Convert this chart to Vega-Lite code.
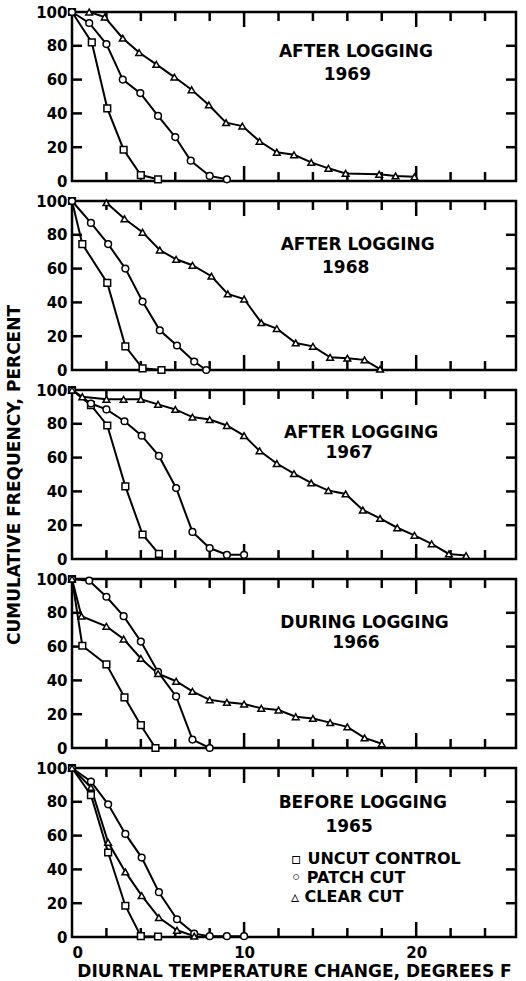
{
  "$schema": "https://vega.github.io/schema/vega-lite/v6.json",
  "background": "white",
  "padding": {"left": 4, "top": 3, "right": 5, "bottom": 2},
  "bounds": "flush",
  "spacing": 20,
  "resolve": {"legend": {"shape": "independent"}},
  "config": {
    "view": {"stroke": "black", "strokeWidth": 2.5},
    "font": "DejaVu Sans",
    "axis": {
      "labelFont": "DejaVu Sans", "labelFontWeight": "bold", "labelFontSize": 15, "labelColor": "black",
      "ticks": false, "domain": false, "grid": false,
      "titleFont": "DejaVu Sans", "titleFontWeight": "bold", "titleColor": "black", "titleFontSize": 17
    },
    "legend": {
      "labelFont": "DejaVu Sans", "labelFontWeight": "bold", "labelFontSize": 16, "labelColor": "black", "labelLimit": 400,
      "padding": 0, "rowPadding": 3, "labelOffset": 0
    }
  },
  "datasets": {
    "xticks": [{"value": 2}, {"value": 4}, {"value": 6}, {"value": 8}, {"value": 10}, {"value": 12}, {"value": 14}, {"value": 16}, {"value": 18}, {"value": 20}, {"value": 22}, {"value": 24}],
    "yticks": [{"value": 20}, {"value": 40}, {"value": 60}, {"value": 80}],
    "curves": [
      {"panel": "1969", "series": "UNCUT CONTROL", "x": 0, "y": 100},
      {"panel": "1969", "series": "UNCUT CONTROL", "x": 1.15, "y": 82},
      {"panel": "1969", "series": "UNCUT CONTROL", "x": 2.05, "y": 43},
      {"panel": "1969", "series": "UNCUT CONTROL", "x": 3, "y": 18.5},
      {"panel": "1969", "series": "UNCUT CONTROL", "x": 4, "y": 3.5},
      {"panel": "1969", "series": "UNCUT CONTROL", "x": 5, "y": 1},
      {"panel": "1969", "series": "PATCH CUT", "x": 0, "y": 100},
      {"panel": "1969", "series": "PATCH CUT", "x": 1, "y": 93.5},
      {"panel": "1969", "series": "PATCH CUT", "x": 2, "y": 81},
      {"panel": "1969", "series": "PATCH CUT", "x": 2.95, "y": 60},
      {"panel": "1969", "series": "PATCH CUT", "x": 3.97, "y": 52},
      {"panel": "1969", "series": "PATCH CUT", "x": 5, "y": 38.5},
      {"panel": "1969", "series": "PATCH CUT", "x": 6, "y": 26},
      {"panel": "1969", "series": "PATCH CUT", "x": 6.9, "y": 12},
      {"panel": "1969", "series": "PATCH CUT", "x": 8, "y": 3},
      {"panel": "1969", "series": "PATCH CUT", "x": 9, "y": 1},
      {"panel": "1969", "series": "CLEAR CUT", "x": 1, "y": 100},
      {"panel": "1969", "series": "CLEAR CUT", "x": 1.9, "y": 97},
      {"panel": "1969", "series": "CLEAR CUT", "x": 2.95, "y": 84.5},
      {"panel": "1969", "series": "CLEAR CUT", "x": 3.9, "y": 76},
      {"panel": "1969", "series": "CLEAR CUT", "x": 4.9, "y": 69},
      {"panel": "1969", "series": "CLEAR CUT", "x": 5.95, "y": 61.5},
      {"panel": "1969", "series": "CLEAR CUT", "x": 6.95, "y": 54},
      {"panel": "1969", "series": "CLEAR CUT", "x": 7.95, "y": 45},
      {"panel": "1969", "series": "CLEAR CUT", "x": 8.95, "y": 34.5},
      {"panel": "1969", "series": "CLEAR CUT", "x": 9.9, "y": 32.5},
      {"panel": "1969", "series": "CLEAR CUT", "x": 10.9, "y": 23.5},
      {"panel": "1969", "series": "CLEAR CUT", "x": 11.9, "y": 17},
      {"panel": "1969", "series": "CLEAR CUT", "x": 12.9, "y": 15.5},
      {"panel": "1969", "series": "CLEAR CUT", "x": 13.9, "y": 11},
      {"panel": "1969", "series": "CLEAR CUT", "x": 14.9, "y": 7.5},
      {"panel": "1969", "series": "CLEAR CUT", "x": 15.9, "y": 4.5},
      {"panel": "1969", "series": "CLEAR CUT", "x": 17.85, "y": 4},
      {"panel": "1969", "series": "CLEAR CUT", "x": 18.8, "y": 3},
      {"panel": "1969", "series": "CLEAR CUT", "x": 19.9, "y": 2.5},

      {"panel": "1968", "series": "UNCUT CONTROL", "x": 0, "y": 100},
      {"panel": "1968", "series": "UNCUT CONTROL", "x": 0.6, "y": 74.5},
      {"panel": "1968", "series": "UNCUT CONTROL", "x": 2.05, "y": 51.5},
      {"panel": "1968", "series": "UNCUT CONTROL", "x": 3.1, "y": 14},
      {"panel": "1968", "series": "UNCUT CONTROL", "x": 4.1, "y": 1},
      {"panel": "1968", "series": "UNCUT CONTROL", "x": 5.2, "y": 0},
      {"panel": "1968", "series": "PATCH CUT", "x": 0, "y": 100},
      {"panel": "1968", "series": "PATCH CUT", "x": 1.1, "y": 87},
      {"panel": "1968", "series": "PATCH CUT", "x": 2.1, "y": 74.5},
      {"panel": "1968", "series": "PATCH CUT", "x": 3.1, "y": 60},
      {"panel": "1968", "series": "PATCH CUT", "x": 4.1, "y": 40.5},
      {"panel": "1968", "series": "PATCH CUT", "x": 5.1, "y": 23.5},
      {"panel": "1968", "series": "PATCH CUT", "x": 6.1, "y": 14.5},
      {"panel": "1968", "series": "PATCH CUT", "x": 7.1, "y": 5},
      {"panel": "1968", "series": "PATCH CUT", "x": 7.8, "y": 0},
      {"panel": "1968", "series": "CLEAR CUT", "x": 2, "y": 99},
      {"panel": "1968", "series": "CLEAR CUT", "x": 3.05, "y": 89.5},
      {"panel": "1968", "series": "CLEAR CUT", "x": 4.1, "y": 81.5},
      {"panel": "1968", "series": "CLEAR CUT", "x": 5.1, "y": 71},
      {"panel": "1968", "series": "CLEAR CUT", "x": 6.05, "y": 65.5},
      {"panel": "1968", "series": "CLEAR CUT", "x": 7, "y": 62},
      {"panel": "1968", "series": "CLEAR CUT", "x": 8.1, "y": 55.5},
      {"panel": "1968", "series": "CLEAR CUT", "x": 9.05, "y": 45},
      {"panel": "1968", "series": "CLEAR CUT", "x": 10, "y": 42},
      {"panel": "1968", "series": "CLEAR CUT", "x": 11, "y": 28},
      {"panel": "1968", "series": "CLEAR CUT", "x": 11.9, "y": 24.5},
      {"panel": "1968", "series": "CLEAR CUT", "x": 13, "y": 16},
      {"panel": "1968", "series": "CLEAR CUT", "x": 14, "y": 14},
      {"panel": "1968", "series": "CLEAR CUT", "x": 15, "y": 7.5},
      {"panel": "1968", "series": "CLEAR CUT", "x": 16, "y": 7},
      {"panel": "1968", "series": "CLEAR CUT", "x": 17, "y": 6},
      {"panel": "1968", "series": "CLEAR CUT", "x": 17.9, "y": 0.5},

      {"panel": "1967", "series": "UNCUT CONTROL", "x": 0, "y": 100},
      {"panel": "1967", "series": "UNCUT CONTROL", "x": 1.1, "y": 91},
      {"panel": "1967", "series": "UNCUT CONTROL", "x": 2.05, "y": 79},
      {"panel": "1967", "series": "UNCUT CONTROL", "x": 3.1, "y": 43},
      {"panel": "1967", "series": "UNCUT CONTROL", "x": 4.1, "y": 14.5},
      {"panel": "1967", "series": "UNCUT CONTROL", "x": 5.05, "y": 3},
      {"panel": "1967", "series": "PATCH CUT", "x": 0, "y": 100},
      {"panel": "1967", "series": "PATCH CUT", "x": 1.1, "y": 92},
      {"panel": "1967", "series": "PATCH CUT", "x": 2, "y": 88.5},
      {"panel": "1967", "series": "PATCH CUT", "x": 3.05, "y": 81.5},
      {"panel": "1967", "series": "PATCH CUT", "x": 4.05, "y": 73},
      {"panel": "1967", "series": "PATCH CUT", "x": 5.05, "y": 61},
      {"panel": "1967", "series": "PATCH CUT", "x": 6.05, "y": 42},
      {"panel": "1967", "series": "PATCH CUT", "x": 7, "y": 16},
      {"panel": "1967", "series": "PATCH CUT", "x": 8, "y": 6.5},
      {"panel": "1967", "series": "PATCH CUT", "x": 9, "y": 2.5},
      {"panel": "1967", "series": "PATCH CUT", "x": 10, "y": 2.5},
      {"panel": "1967", "series": "CLEAR CUT", "x": 0, "y": 100},
      {"panel": "1967", "series": "CLEAR CUT", "x": 0.6, "y": 96},
      {"panel": "1967", "series": "CLEAR CUT", "x": 2, "y": 94.5},
      {"panel": "1967", "series": "CLEAR CUT", "x": 3, "y": 94.5},
      {"panel": "1967", "series": "CLEAR CUT", "x": 4, "y": 94.5},
      {"panel": "1967", "series": "CLEAR CUT", "x": 5, "y": 91.5},
      {"panel": "1967", "series": "CLEAR CUT", "x": 6, "y": 88.5},
      {"panel": "1967", "series": "CLEAR CUT", "x": 7, "y": 84},
      {"panel": "1967", "series": "CLEAR CUT", "x": 8, "y": 82.5},
      {"panel": "1967", "series": "CLEAR CUT", "x": 9, "y": 79},
      {"panel": "1967", "series": "CLEAR CUT", "x": 10, "y": 73},
      {"panel": "1967", "series": "CLEAR CUT", "x": 10.9, "y": 64},
      {"panel": "1967", "series": "CLEAR CUT", "x": 11.9, "y": 56.5},
      {"panel": "1967", "series": "CLEAR CUT", "x": 12.9, "y": 50.5},
      {"panel": "1967", "series": "CLEAR CUT", "x": 13.9, "y": 45},
      {"panel": "1967", "series": "CLEAR CUT", "x": 14.9, "y": 40.5},
      {"panel": "1967", "series": "CLEAR CUT", "x": 15.9, "y": 38.5},
      {"panel": "1967", "series": "CLEAR CUT", "x": 16.9, "y": 29},
      {"panel": "1967", "series": "CLEAR CUT", "x": 17.9, "y": 24},
      {"panel": "1967", "series": "CLEAR CUT", "x": 18.9, "y": 18.5},
      {"panel": "1967", "series": "CLEAR CUT", "x": 19.9, "y": 14},
      {"panel": "1967", "series": "CLEAR CUT", "x": 20.9, "y": 9},
      {"panel": "1967", "series": "CLEAR CUT", "x": 21.9, "y": 3},
      {"panel": "1967", "series": "CLEAR CUT", "x": 22.9, "y": 2},

      {"panel": "1966", "series": "UNCUT CONTROL", "x": 0, "y": 100},
      {"panel": "1966", "series": "UNCUT CONTROL", "x": 0.6, "y": 60.5},
      {"panel": "1966", "series": "UNCUT CONTROL", "x": 2, "y": 49.5},
      {"panel": "1966", "series": "UNCUT CONTROL", "x": 3.05, "y": 30},
      {"panel": "1966", "series": "UNCUT CONTROL", "x": 4, "y": 13.5},
      {"panel": "1966", "series": "UNCUT CONTROL", "x": 4.85, "y": 0},
      {"panel": "1966", "series": "PATCH CUT", "x": 0, "y": 100},
      {"panel": "1966", "series": "PATCH CUT", "x": 1, "y": 99},
      {"panel": "1966", "series": "PATCH CUT", "x": 2, "y": 89.5},
      {"panel": "1966", "series": "PATCH CUT", "x": 3, "y": 78},
      {"panel": "1966", "series": "PATCH CUT", "x": 4, "y": 63},
      {"panel": "1966", "series": "PATCH CUT", "x": 5, "y": 45},
      {"panel": "1966", "series": "PATCH CUT", "x": 6.05, "y": 30.5},
      {"panel": "1966", "series": "PATCH CUT", "x": 7, "y": 5},
      {"panel": "1966", "series": "PATCH CUT", "x": 8, "y": 0},
      {"panel": "1966", "series": "CLEAR CUT", "x": 0, "y": 100},
      {"panel": "1966", "series": "CLEAR CUT", "x": 0.55, "y": 78},
      {"panel": "1966", "series": "CLEAR CUT", "x": 2, "y": 72},
      {"panel": "1966", "series": "CLEAR CUT", "x": 3, "y": 64.5},
      {"panel": "1966", "series": "CLEAR CUT", "x": 4, "y": 53},
      {"panel": "1966", "series": "CLEAR CUT", "x": 5, "y": 44},
      {"panel": "1966", "series": "CLEAR CUT", "x": 6.05, "y": 39.5},
      {"panel": "1966", "series": "CLEAR CUT", "x": 7, "y": 33.5},
      {"panel": "1966", "series": "CLEAR CUT", "x": 8, "y": 28.5},
      {"panel": "1966", "series": "CLEAR CUT", "x": 9, "y": 27},
      {"panel": "1966", "series": "CLEAR CUT", "x": 10, "y": 26},
      {"panel": "1966", "series": "CLEAR CUT", "x": 11, "y": 23.5},
      {"panel": "1966", "series": "CLEAR CUT", "x": 12, "y": 22.5},
      {"panel": "1966", "series": "CLEAR CUT", "x": 13, "y": 18.5},
      {"panel": "1966", "series": "CLEAR CUT", "x": 14, "y": 17.5},
      {"panel": "1966", "series": "CLEAR CUT", "x": 15, "y": 15},
      {"panel": "1966", "series": "CLEAR CUT", "x": 16, "y": 12.5},
      {"panel": "1966", "series": "CLEAR CUT", "x": 17, "y": 6},
      {"panel": "1966", "series": "CLEAR CUT", "x": 18, "y": 2.5},

      {"panel": "1965", "series": "UNCUT CONTROL", "x": 0, "y": 100},
      {"panel": "1965", "series": "UNCUT CONTROL", "x": 1.1, "y": 84},
      {"panel": "1965", "series": "UNCUT CONTROL", "x": 2.1, "y": 50},
      {"panel": "1965", "series": "UNCUT CONTROL", "x": 3.1, "y": 18.5},
      {"panel": "1965", "series": "UNCUT CONTROL", "x": 4, "y": 0.5},
      {"panel": "1965", "series": "UNCUT CONTROL", "x": 5, "y": 0.3},
      {"panel": "1965", "series": "PATCH CUT", "x": 0, "y": 100},
      {"panel": "1965", "series": "PATCH CUT", "x": 1.1, "y": 92},
      {"panel": "1965", "series": "PATCH CUT", "x": 2.1, "y": 78.5},
      {"panel": "1965", "series": "PATCH CUT", "x": 3.1, "y": 61},
      {"panel": "1965", "series": "PATCH CUT", "x": 4.05, "y": 47},
      {"panel": "1965", "series": "PATCH CUT", "x": 5.05, "y": 26.5},
      {"panel": "1965", "series": "PATCH CUT", "x": 6.1, "y": 10.5},
      {"panel": "1965", "series": "PATCH CUT", "x": 7.1, "y": 2},
      {"panel": "1965", "series": "PATCH CUT", "x": 8, "y": 0.5},
      {"panel": "1965", "series": "PATCH CUT", "x": 9, "y": 0.5},
      {"panel": "1965", "series": "PATCH CUT", "x": 10, "y": 0.5},
      {"panel": "1965", "series": "CLEAR CUT", "x": 0, "y": 100},
      {"panel": "1965", "series": "CLEAR CUT", "x": 1.1, "y": 88.5},
      {"panel": "1965", "series": "CLEAR CUT", "x": 2.1, "y": 56},
      {"panel": "1965", "series": "CLEAR CUT", "x": 3.1, "y": 38.5},
      {"panel": "1965", "series": "CLEAR CUT", "x": 4.05, "y": 24.5},
      {"panel": "1965", "series": "CLEAR CUT", "x": 5.05, "y": 11.5},
      {"panel": "1965", "series": "CLEAR CUT", "x": 6.1, "y": 4},
      {"panel": "1965", "series": "CLEAR CUT", "x": 7.1, "y": 0.5}
    ],
    "notes": [
      {"panel": "1969", "line1": "AFTER LOGGING", "line2": "1969"},
      {"panel": "1968", "line1": "AFTER LOGGING", "line2": "1968"},
      {"panel": "1967", "line1": "AFTER LOGGING", "line2": "1967"},
      {"panel": "1966", "line1": "DURING LOGGING", "line2": "1966"},
      {"panel": "1965", "line1": "BEFORE LOGGING", "line2": "1965"}
    ]
  },
  "vconcat": [
    {
      "width": 444, "height": 169,
      "resolve": {"axis": {"x": "independent", "y": "independent"}},
      "layer": [
        {"data": {"name": "curves"}, "transform": [{"filter": "datum.panel === '1969'"}],
         "mark": {"type": "line", "color": "black", "strokeWidth": 2},
         "encoding": {
           "x": {"field": "x", "type": "quantitative", "scale": {"domain": [0, 25.8], "nice": false, "zero": false}, "axis": null},
           "y": {"field": "y", "type": "quantitative", "scale": {"domain": [0, 100], "nice": false},
                 "axis": {"orient": "left", "values": [0,20,40,60,80,100], "labelPadding": 5, "title": null}},
           "detail": {"field": "series"}
         }},
        {"data": {"name": "xticks"}, "transform": [{"filter": "datum.value % 10 !== 0"}], "mark": {"type": "rule", "color": "black", "strokeWidth": 2.5},
         "encoding": {"x": {"field": "value", "type": "quantitative", "axis": null}, "y": {"datum": 0, "type": "quantitative", "axis": null}, "y2": {"datum": 5.3}}},
        {"data": {"name": "xticks"}, "transform": [{"filter": "datum.value % 10 !== 0"}], "mark": {"type": "rule", "color": "black", "strokeWidth": 2.5},
         "encoding": {"x": {"field": "value", "type": "quantitative", "axis": null}, "y": {"datum": 100, "type": "quantitative", "axis": null}, "y2": {"datum": 94.7}}},
        {"data": {"name": "xticks"}, "transform": [{"filter": "datum.value % 10 === 0"}], "mark": {"type": "rule", "color": "black", "strokeWidth": 2.5},
         "encoding": {"x": {"field": "value", "type": "quantitative", "axis": null}, "y": {"datum": 0, "type": "quantitative", "axis": null}, "y2": {"datum": 8.9}}},
        {"data": {"name": "xticks"}, "transform": [{"filter": "datum.value % 10 === 0"}], "mark": {"type": "rule", "color": "black", "strokeWidth": 2.5},
         "encoding": {"x": {"field": "value", "type": "quantitative", "axis": null}, "y": {"datum": 100, "type": "quantitative", "axis": null}, "y2": {"datum": 91.1}}},
        {"data": {"name": "yticks"}, "mark": {"type": "rule", "color": "black", "strokeWidth": 2.5},
         "encoding": {"y": {"field": "value", "type": "quantitative", "axis": null}, "x": {"datum": 0, "type": "quantitative", "axis": null}, "x2": {"datum": 0.58}}},
        {"data": {"name": "yticks"}, "mark": {"type": "rule", "color": "black", "strokeWidth": 2.5},
         "encoding": {"y": {"field": "value", "type": "quantitative", "axis": null}, "x": {"datum": 25.8, "type": "quantitative", "axis": null}, "x2": {"datum": 25.22}}},
        {"data": {"name": "curves"}, "transform": [{"filter": "datum.panel === '1969'"}],
         "mark": {"type": "point", "filled": false, "color": "black", "fill": "white", "stroke": "black", "strokeWidth": 1.5, "size": 45, "opacity": 1, "fillOpacity": 1},
         "encoding": {
           "x": {"field": "x", "type": "quantitative", "axis": null},
           "y": {"field": "y", "type": "quantitative", "axis": null},
           "shape": {"field": "series", "type": "nominal", "scale": {"domain": ["UNCUT CONTROL", "PATCH CUT", "CLEAR CUT"], "range": ["square", "circle", "triangle-up"]}, "legend": null}
         }},
        {"data": {"name": "notes"}, "transform": [{"filter": "datum.panel === '1969'"}],
         "mark": {"type": "text", "fontWeight": "bold", "fontSize": 17, "align": "center", "baseline": "middle", "color": "black"},
         "encoding": {"x": {"datum": 16.5, "type": "quantitative", "axis": null}, "y": {"datum": 76.3, "type": "quantitative", "axis": null}, "text": {"field": "line1"}}},
        {"data": {"name": "notes"}, "transform": [{"filter": "datum.panel === '1969'"}],
         "mark": {"type": "text", "fontWeight": "bold", "fontSize": 17, "align": "center", "baseline": "middle", "color": "black"},
         "encoding": {"x": {"datum": 16.0, "type": "quantitative", "axis": null}, "y": {"datum": 62.7, "type": "quantitative", "axis": null}, "text": {"field": "line2"}}}
      ]
    },
    {
      "width": 444, "height": 169,
      "resolve": {"axis": {"x": "independent", "y": "independent"}},
      "layer": [
        {"data": {"name": "curves"}, "transform": [{"filter": "datum.panel === '1968'"}],
         "mark": {"type": "line", "color": "black", "strokeWidth": 2},
         "encoding": {
           "x": {"field": "x", "type": "quantitative", "scale": {"domain": [0, 25.8], "nice": false, "zero": false}, "axis": null},
           "y": {"field": "y", "type": "quantitative", "scale": {"domain": [0, 100], "nice": false},
                 "axis": {"orient": "left", "values": [0,20,40,60,80,100], "labelPadding": 5, "title": null}},
           "detail": {"field": "series"}
         }},
        {"data": {"name": "xticks"}, "transform": [{"filter": "datum.value % 10 !== 0"}], "mark": {"type": "rule", "color": "black", "strokeWidth": 2.5},
         "encoding": {"x": {"field": "value", "type": "quantitative", "axis": null}, "y": {"datum": 0, "type": "quantitative", "axis": null}, "y2": {"datum": 5.3}}},
        {"data": {"name": "xticks"}, "transform": [{"filter": "datum.value % 10 !== 0"}], "mark": {"type": "rule", "color": "black", "strokeWidth": 2.5},
         "encoding": {"x": {"field": "value", "type": "quantitative", "axis": null}, "y": {"datum": 100, "type": "quantitative", "axis": null}, "y2": {"datum": 94.7}}},
        {"data": {"name": "xticks"}, "transform": [{"filter": "datum.value % 10 === 0"}], "mark": {"type": "rule", "color": "black", "strokeWidth": 2.5},
         "encoding": {"x": {"field": "value", "type": "quantitative", "axis": null}, "y": {"datum": 0, "type": "quantitative", "axis": null}, "y2": {"datum": 8.9}}},
        {"data": {"name": "xticks"}, "transform": [{"filter": "datum.value % 10 === 0"}], "mark": {"type": "rule", "color": "black", "strokeWidth": 2.5},
         "encoding": {"x": {"field": "value", "type": "quantitative", "axis": null}, "y": {"datum": 100, "type": "quantitative", "axis": null}, "y2": {"datum": 91.1}}},
        {"data": {"name": "yticks"}, "mark": {"type": "rule", "color": "black", "strokeWidth": 2.5},
         "encoding": {"y": {"field": "value", "type": "quantitative", "axis": null}, "x": {"datum": 0, "type": "quantitative", "axis": null}, "x2": {"datum": 0.58}}},
        {"data": {"name": "yticks"}, "mark": {"type": "rule", "color": "black", "strokeWidth": 2.5},
         "encoding": {"y": {"field": "value", "type": "quantitative", "axis": null}, "x": {"datum": 25.8, "type": "quantitative", "axis": null}, "x2": {"datum": 25.22}}},
        {"data": {"name": "curves"}, "transform": [{"filter": "datum.panel === '1968'"}],
         "mark": {"type": "point", "filled": false, "color": "black", "fill": "white", "stroke": "black", "strokeWidth": 1.5, "size": 45, "opacity": 1, "fillOpacity": 1},
         "encoding": {
           "x": {"field": "x", "type": "quantitative", "axis": null},
           "y": {"field": "y", "type": "quantitative", "axis": null},
           "shape": {"field": "series", "type": "nominal", "scale": {"domain": ["UNCUT CONTROL", "PATCH CUT", "CLEAR CUT"], "range": ["square", "circle", "triangle-up"]}, "legend": null}
         }},
        {"data": {"name": "notes"}, "transform": [{"filter": "datum.panel === '1968'"}],
         "mark": {"type": "text", "fontWeight": "bold", "fontSize": 17, "align": "center", "baseline": "middle", "color": "black"},
         "encoding": {"x": {"datum": 16.6, "type": "quantitative", "axis": null}, "y": {"datum": 74.0, "type": "quantitative", "axis": null}, "text": {"field": "line1"}}},
        {"data": {"name": "notes"}, "transform": [{"filter": "datum.panel === '1968'"}],
         "mark": {"type": "text", "fontWeight": "bold", "fontSize": 17, "align": "center", "baseline": "middle", "color": "black"},
         "encoding": {"x": {"datum": 15.9, "type": "quantitative", "axis": null}, "y": {"datum": 60.4, "type": "quantitative", "axis": null}, "text": {"field": "line2"}}}
      ]
    },
    {
      "width": 444, "height": 169,
      "resolve": {"axis": {"x": "independent", "y": "independent"}},
      "layer": [
        {"data": {"name": "curves"}, "transform": [{"filter": "datum.panel === '1967'"}],
         "mark": {"type": "line", "color": "black", "strokeWidth": 2},
         "encoding": {
           "x": {"field": "x", "type": "quantitative", "scale": {"domain": [0, 25.8], "nice": false, "zero": false}, "axis": null},
           "y": {"field": "y", "type": "quantitative", "scale": {"domain": [0, 100], "nice": false},
                 "axis": {"orient": "left", "values": [0,20,40,60,80,100], "labelPadding": 5,
                          "title": "CUMULATIVE FREQUENCY, PERCENT", "titlePadding": 12}},
           "detail": {"field": "series"}
         }},
        {"data": {"name": "xticks"}, "transform": [{"filter": "datum.value % 10 !== 0"}], "mark": {"type": "rule", "color": "black", "strokeWidth": 2.5},
         "encoding": {"x": {"field": "value", "type": "quantitative", "axis": null}, "y": {"datum": 0, "type": "quantitative", "axis": null}, "y2": {"datum": 5.3}}},
        {"data": {"name": "xticks"}, "transform": [{"filter": "datum.value % 10 !== 0"}], "mark": {"type": "rule", "color": "black", "strokeWidth": 2.5},
         "encoding": {"x": {"field": "value", "type": "quantitative", "axis": null}, "y": {"datum": 100, "type": "quantitative", "axis": null}, "y2": {"datum": 94.7}}},
        {"data": {"name": "xticks"}, "transform": [{"filter": "datum.value % 10 === 0"}], "mark": {"type": "rule", "color": "black", "strokeWidth": 2.5},
         "encoding": {"x": {"field": "value", "type": "quantitative", "axis": null}, "y": {"datum": 0, "type": "quantitative", "axis": null}, "y2": {"datum": 8.9}}},
        {"data": {"name": "xticks"}, "transform": [{"filter": "datum.value % 10 === 0"}], "mark": {"type": "rule", "color": "black", "strokeWidth": 2.5},
         "encoding": {"x": {"field": "value", "type": "quantitative", "axis": null}, "y": {"datum": 100, "type": "quantitative", "axis": null}, "y2": {"datum": 91.1}}},
        {"data": {"name": "yticks"}, "mark": {"type": "rule", "color": "black", "strokeWidth": 2.5},
         "encoding": {"y": {"field": "value", "type": "quantitative", "axis": null}, "x": {"datum": 0, "type": "quantitative", "axis": null}, "x2": {"datum": 0.58}}},
        {"data": {"name": "yticks"}, "mark": {"type": "rule", "color": "black", "strokeWidth": 2.5},
         "encoding": {"y": {"field": "value", "type": "quantitative", "axis": null}, "x": {"datum": 25.8, "type": "quantitative", "axis": null}, "x2": {"datum": 25.22}}},
        {"data": {"name": "curves"}, "transform": [{"filter": "datum.panel === '1967'"}],
         "mark": {"type": "point", "filled": false, "color": "black", "fill": "white", "stroke": "black", "strokeWidth": 1.5, "size": 45, "opacity": 1, "fillOpacity": 1},
         "encoding": {
           "x": {"field": "x", "type": "quantitative", "axis": null},
           "y": {"field": "y", "type": "quantitative", "axis": null},
           "shape": {"field": "series", "type": "nominal", "scale": {"domain": ["UNCUT CONTROL", "PATCH CUT", "CLEAR CUT"], "range": ["square", "circle", "triangle-up"]}, "legend": null}
         }},
        {"data": {"name": "notes"}, "transform": [{"filter": "datum.panel === '1967'"}],
         "mark": {"type": "text", "fontWeight": "bold", "fontSize": 17, "align": "center", "baseline": "middle", "color": "black"},
         "encoding": {"x": {"datum": 16.8, "type": "quantitative", "axis": null}, "y": {"datum": 74.6, "type": "quantitative", "axis": null}, "text": {"field": "line1"}}},
        {"data": {"name": "notes"}, "transform": [{"filter": "datum.panel === '1967'"}],
         "mark": {"type": "text", "fontWeight": "bold", "fontSize": 17, "align": "center", "baseline": "middle", "color": "black"},
         "encoding": {"x": {"datum": 16.1, "type": "quantitative", "axis": null}, "y": {"datum": 62.7, "type": "quantitative", "axis": null}, "text": {"field": "line2"}}}
      ]
    },
    {
      "width": 444, "height": 169,
      "resolve": {"axis": {"x": "independent", "y": "independent"}},
      "layer": [
        {"data": {"name": "curves"}, "transform": [{"filter": "datum.panel === '1966'"}],
         "mark": {"type": "line", "color": "black", "strokeWidth": 2},
         "encoding": {
           "x": {"field": "x", "type": "quantitative", "scale": {"domain": [0, 25.8], "nice": false, "zero": false}, "axis": null},
           "y": {"field": "y", "type": "quantitative", "scale": {"domain": [0, 100], "nice": false},
                 "axis": {"orient": "left", "values": [0,20,40,60,80,100], "labelPadding": 5, "title": null}},
           "detail": {"field": "series"}
         }},
        {"data": {"name": "xticks"}, "transform": [{"filter": "datum.value % 10 !== 0"}], "mark": {"type": "rule", "color": "black", "strokeWidth": 2.5},
         "encoding": {"x": {"field": "value", "type": "quantitative", "axis": null}, "y": {"datum": 0, "type": "quantitative", "axis": null}, "y2": {"datum": 5.3}}},
        {"data": {"name": "xticks"}, "transform": [{"filter": "datum.value % 10 !== 0"}], "mark": {"type": "rule", "color": "black", "strokeWidth": 2.5},
         "encoding": {"x": {"field": "value", "type": "quantitative", "axis": null}, "y": {"datum": 100, "type": "quantitative", "axis": null}, "y2": {"datum": 94.7}}},
        {"data": {"name": "xticks"}, "transform": [{"filter": "datum.value % 10 === 0"}], "mark": {"type": "rule", "color": "black", "strokeWidth": 2.5},
         "encoding": {"x": {"field": "value", "type": "quantitative", "axis": null}, "y": {"datum": 0, "type": "quantitative", "axis": null}, "y2": {"datum": 8.9}}},
        {"data": {"name": "xticks"}, "transform": [{"filter": "datum.value % 10 === 0"}], "mark": {"type": "rule", "color": "black", "strokeWidth": 2.5},
         "encoding": {"x": {"field": "value", "type": "quantitative", "axis": null}, "y": {"datum": 100, "type": "quantitative", "axis": null}, "y2": {"datum": 91.1}}},
        {"data": {"name": "yticks"}, "mark": {"type": "rule", "color": "black", "strokeWidth": 2.5},
         "encoding": {"y": {"field": "value", "type": "quantitative", "axis": null}, "x": {"datum": 0, "type": "quantitative", "axis": null}, "x2": {"datum": 0.58}}},
        {"data": {"name": "yticks"}, "mark": {"type": "rule", "color": "black", "strokeWidth": 2.5},
         "encoding": {"y": {"field": "value", "type": "quantitative", "axis": null}, "x": {"datum": 25.8, "type": "quantitative", "axis": null}, "x2": {"datum": 25.22}}},
        {"data": {"name": "curves"}, "transform": [{"filter": "datum.panel === '1966'"}],
         "mark": {"type": "point", "filled": false, "color": "black", "fill": "white", "stroke": "black", "strokeWidth": 1.5, "size": 45, "opacity": 1, "fillOpacity": 1},
         "encoding": {
           "x": {"field": "x", "type": "quantitative", "axis": null},
           "y": {"field": "y", "type": "quantitative", "axis": null},
           "shape": {"field": "series", "type": "nominal", "scale": {"domain": ["UNCUT CONTROL", "PATCH CUT", "CLEAR CUT"], "range": ["square", "circle", "triangle-up"]}, "legend": null}
         }},
        {"data": {"name": "notes"}, "transform": [{"filter": "datum.panel === '1966'"}],
         "mark": {"type": "text", "fontWeight": "bold", "fontSize": 17, "align": "center", "baseline": "middle", "color": "black"},
         "encoding": {"x": {"datum": 17.0, "type": "quantitative", "axis": null}, "y": {"datum": 74.0, "type": "quantitative", "axis": null}, "text": {"field": "line1"}}},
        {"data": {"name": "notes"}, "transform": [{"filter": "datum.panel === '1966'"}],
         "mark": {"type": "text", "fontWeight": "bold", "fontSize": 17, "align": "center", "baseline": "middle", "color": "black"},
         "encoding": {"x": {"datum": 16.5, "type": "quantitative", "axis": null}, "y": {"datum": 62.3, "type": "quantitative", "axis": null}, "text": {"field": "line2"}}}
      ]
    },
    {
      "width": 444, "height": 169,
      "resolve": {"axis": {"x": "independent", "y": "independent"}},
      "layer": [
        {"data": {"name": "curves"}, "transform": [{"filter": "datum.panel === '1965'"}],
         "mark": {"type": "line", "color": "black", "strokeWidth": 2},
         "encoding": {
           "x": {"field": "x", "type": "quantitative", "scale": {"domain": [0, 25.8], "nice": false, "zero": false},
                 "axis": {"orient": "bottom", "values": [0, 10, 20], "labelPadding": 8,
                          "title": "DIURNAL TEMPERATURE CHANGE, DEGREES F", "titleFontSize": 17, "titlePadding": 3}},
           "y": {"field": "y", "type": "quantitative", "scale": {"domain": [0, 100], "nice": false},
                 "axis": {"orient": "left", "values": [0,20,40,60,80,100], "labelPadding": 5, "title": null}},
           "detail": {"field": "series"}
         }},
        {"data": {"name": "xticks"}, "transform": [{"filter": "datum.value % 10 !== 0"}], "mark": {"type": "rule", "color": "black", "strokeWidth": 2.5},
         "encoding": {"x": {"field": "value", "type": "quantitative", "axis": null}, "y": {"datum": 0, "type": "quantitative", "axis": null}, "y2": {"datum": 5.3}}},
        {"data": {"name": "xticks"}, "transform": [{"filter": "datum.value % 10 !== 0"}], "mark": {"type": "rule", "color": "black", "strokeWidth": 2.5},
         "encoding": {"x": {"field": "value", "type": "quantitative", "axis": null}, "y": {"datum": 100, "type": "quantitative", "axis": null}, "y2": {"datum": 94.7}}},
        {"data": {"name": "xticks"}, "transform": [{"filter": "datum.value % 10 === 0"}], "mark": {"type": "rule", "color": "black", "strokeWidth": 2.5},
         "encoding": {"x": {"field": "value", "type": "quantitative", "axis": null}, "y": {"datum": 0, "type": "quantitative", "axis": null}, "y2": {"datum": 8.9}}},
        {"data": {"name": "xticks"}, "transform": [{"filter": "datum.value % 10 === 0"}], "mark": {"type": "rule", "color": "black", "strokeWidth": 2.5},
         "encoding": {"x": {"field": "value", "type": "quantitative", "axis": null}, "y": {"datum": 100, "type": "quantitative", "axis": null}, "y2": {"datum": 91.1}}},
        {"data": {"name": "yticks"}, "mark": {"type": "rule", "color": "black", "strokeWidth": 2.5},
         "encoding": {"y": {"field": "value", "type": "quantitative", "axis": null}, "x": {"datum": 0, "type": "quantitative", "axis": null}, "x2": {"datum": 0.58}}},
        {"data": {"name": "yticks"}, "mark": {"type": "rule", "color": "black", "strokeWidth": 2.5},
         "encoding": {"y": {"field": "value", "type": "quantitative", "axis": null}, "x": {"datum": 25.8, "type": "quantitative", "axis": null}, "x2": {"datum": 25.22}}},
        {"data": {"name": "curves"}, "transform": [{"filter": "datum.panel === '1965'"}],
         "mark": {"type": "point", "filled": false, "color": "black", "fill": "white", "stroke": "black", "strokeWidth": 1.5, "size": 45, "opacity": 1, "fillOpacity": 1},
         "encoding": {
           "x": {"field": "x", "type": "quantitative", "axis": null},
           "y": {"field": "y", "type": "quantitative", "axis": null},
           "shape": {"field": "series", "type": "nominal", "scale": {"domain": ["UNCUT CONTROL", "PATCH CUT", "CLEAR CUT"], "range": ["square", "circle", "triangle-up"]},
                     "legend": {"title": null, "orient": "none", "legendX": 203, "legendY": 83, "symbolSize": 0, "symbolStrokeWidth": 0,
                                "labelExpr": "datum.label === 'UNCUT CONTROL' ? '▫ UNCUT CONTROL' : datum.label === 'PATCH CUT' ? '◦ PATCH CUT' : '▵ CLEAR CUT'"}}
         }},
        {"data": {"name": "notes"}, "transform": [{"filter": "datum.panel === '1965'"}],
         "mark": {"type": "text", "fontWeight": "bold", "fontSize": 17, "align": "center", "baseline": "middle", "color": "black"},
         "encoding": {"x": {"datum": 16.9, "type": "quantitative", "axis": null}, "y": {"datum": 79.3, "type": "quantitative", "axis": null}, "text": {"field": "line1"}}},
        {"data": {"name": "notes"}, "transform": [{"filter": "datum.panel === '1965'"}],
         "mark": {"type": "text", "fontWeight": "bold", "fontSize": 17, "align": "center", "baseline": "middle", "color": "black"},
         "encoding": {"x": {"datum": 16.1, "type": "quantitative", "axis": null}, "y": {"datum": 65.1, "type": "quantitative", "axis": null}, "text": {"field": "line2"}}}
      ]
    }
  ]
}
